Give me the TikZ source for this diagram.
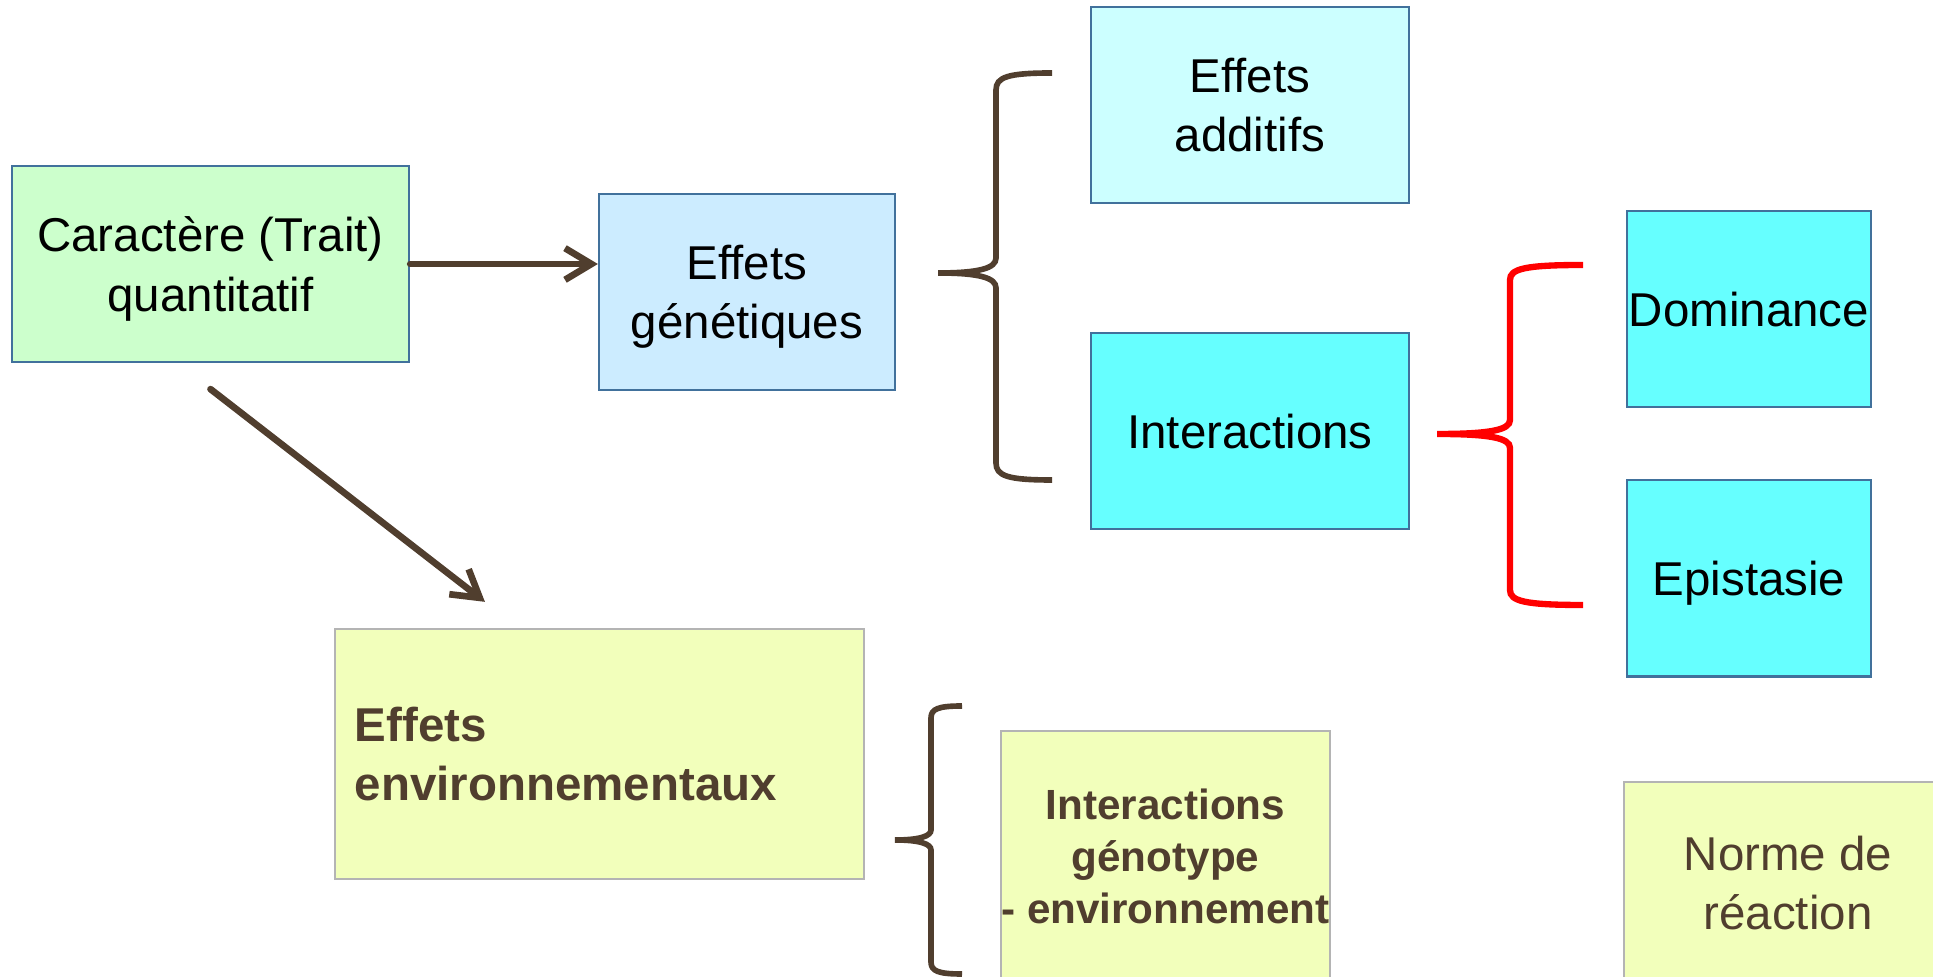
\documentclass[tikz,border=0pt]{standalone}
\usepackage{fontspec}
\setmainfont{Liberation Sans}
\usetikzlibrary{arrows.meta}
\definecolor{boxgreen}{RGB}{204,255,204}
\definecolor{boxblue}{RGB}{204,236,255}
\definecolor{boxpalecyan}{RGB}{204,255,255}
\definecolor{boxcyan}{RGB}{102,255,255}
\definecolor{boxyellow}{RGB}{242,255,187}
\definecolor{edgeblue}{RGB}{65,113,156}
\definecolor{edgegrey}{RGB}{180,180,180}
\definecolor{darkbrown}{RGB}{80,62,46}

\begin{document}
\begin{tikzpicture}[x=0.01cm,y=-0.01cm,
    every node/.style={font=\fontsize{13.5}{16.8}\selectfont, align=center, inner sep=0pt},
    genebox/.style={draw=edgeblue, line width=0.6pt, minimum height=1.96cm, text depth=0pt},
    envbox/.style={draw=edgegrey, fill=boxyellow, line width=0.6pt, text=darkbrown},
    arr/.style={draw=darkbrown, line width=1.9pt, line cap=round, -{Straight Barb[length=7.5pt,width=9pt]}},
    bracket/.style={draw=darkbrown, line width=1.6pt}]
        \useasboundingbox (0,0) rectangle (1933,977);
        \clip (0,0) rectangle (1933,977);
        % trait and genetic effects
        \node[genebox, fill=boxgreen, minimum width=3.97cm] (carac) at (210.5,264) {Caractère (Trait)\\quantitatif};
        \node[genebox, fill=boxblue, minimum width=2.96cm] (genet) at (747,292) {Effets\\génétiques};
        \node[genebox, fill=boxpalecyan, minimum width=3.18cm] (addit) at (1250,105) {Effets\\additifs};
        \node[genebox, fill=boxcyan, minimum width=3.18cm] (interac) at (1250,431) {Interactions};
        \node[genebox, fill=boxcyan, minimum width=2.44cm] (domin) at (1749,309) {Dominance};
        \node[genebox, fill=boxcyan, minimum width=2.44cm] (epist) at (1749,578.5) {Epistasie};
        % environmental effects
        \node[envbox, minimum height=2.5cm, text width=4.89cm, inner xsep=0.2cm, align=left, font=\fontsize{13.5}{16.8}\selectfont\bfseries] (envir) at (599.5,754) {Effets\\environnementaux};
        \node[envbox, minimum width=3.29cm, minimum height=2.5cm, font=\fontsize{12}{14.8}\selectfont\bfseries] (gxe) at (1165.5,856) {Interactions\\génotype\\- environnement};
        \node[envbox, minimum width=3.28cm, minimum height=2.02cm] (norme) at (1788,883) {Norme de\\réaction};
        % arrows
        \draw[arr] (carac.east) -- (carac.east -| genet.west);
        \draw[arr] ([yshift=-0.26cm]carac.south) -- ([xshift=-1.145cm,yshift=0.26cm]envir.north);
        % braces
        \draw[bracket] (1052,73) .. controls (1008,73) and (996,77) .. (996,90) -- (996,258) .. controls (996,268) and (980,273) .. (938,273) .. controls (980,273) and (996,278) .. (996,288) -- (996,463) .. controls (996,476) and (1008,480) .. (1052,480);
        \draw[bracket, red, line width=1.8pt] (1583,265) .. controls (1524,265) and (1510,269) .. (1510,280) -- (1510,420) .. controls (1510,430) and (1490,434) .. (1437,434) .. controls (1490,434) and (1510,438) .. (1510,448) -- (1510,590) .. controls (1510,601) and (1524,605) .. (1583,605);
        \draw[bracket] (962,706) .. controls (938,706) and (931,709) .. (931,718) -- (931,830) .. controls (931,836) and (920,840) .. (895,840) .. controls (920,840) and (931,844) .. (931,850) -- (931,962) .. controls (931,971) and (938,974) .. (962,974);
    \end{tikzpicture}
\end{document}
